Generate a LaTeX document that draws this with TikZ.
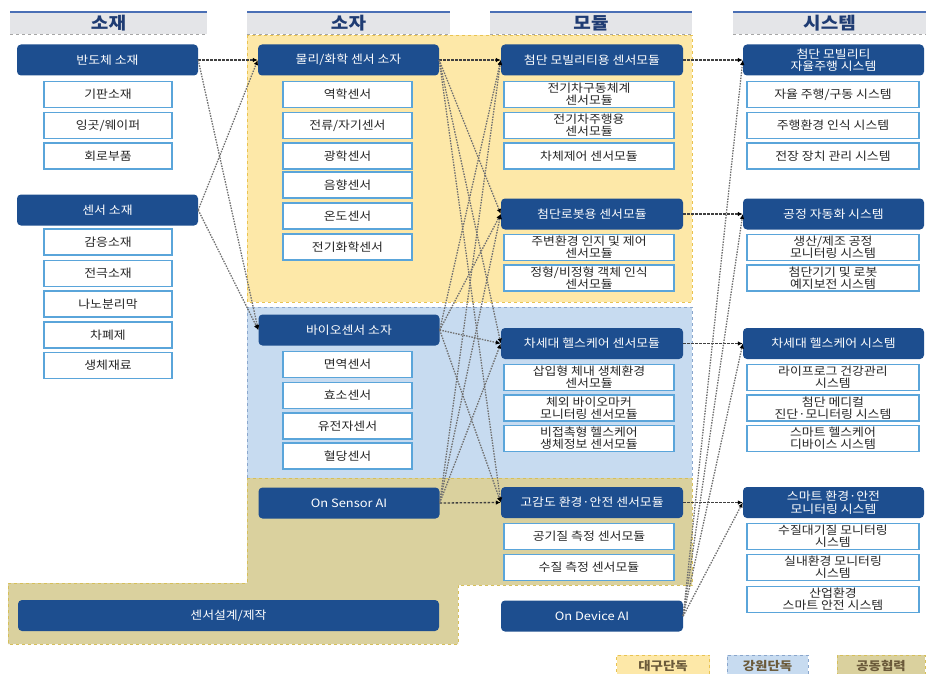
\documentclass[tikz,border=0pt]{standalone}
\usepackage{fontspec}
\setmainfont{Noto Sans CJK KR}[FakeStretch=1.12]
\usetikzlibrary{arrows.meta}
\definecolor{navyA}{HTML}{1D4E8F}
\definecolor{subline}{HTML}{5AA5DA}
\definecolor{headgray}{HTML}{E4E5E8}
\definecolor{headline}{HTML}{4A6FB5}
\definecolor{headtext}{HTML}{1F3C73}
\definecolor{daegu}{HTML}{FDE8A8}
\definecolor{daeguline}{HTML}{E9C352}
\definecolor{gangwon}{HTML}{C7DBF0}
\definecolor{gangwonline}{HTML}{8AA6CC}
\definecolor{joint}{HTML}{DAD19E}
\definecolor{jointline}{HTML}{D6BF5A}
\definecolor{linkgray}{HTML}{707070}
\definecolor{legendtext}{HTML}{6B5A3A}

\begin{document}
\begin{tikzpicture}[x=1pt,y=-1pt,
 dark/.style={fill=navyA,rounded corners=4pt,text=white,minimum height=31,inner sep=0,align=center,font=\fontsize{11.5}{12.5}\selectfont},
 sub/.style={fill=white,draw=subline,line width=1.4pt,minimum height=26,inner sep=0,align=center,text=black!85,font=\fontsize{11.5}{12}\selectfont},
 head/.style={text=headtext,font=\bfseries\fontsize{17}{18}\selectfont},
 link/.style={draw=linkgray,line width=1.3pt,dash pattern=on 1.5pt off 1.2pt,-{Latex[length=5pt,width=4.5pt,color=black]}},
 hlink/.style={link,draw=black!75,dash pattern=on 2.5pt off 1.5pt},
 legendbox/.style={dashed,line width=0.8pt,minimum height=22,inner sep=0,text=legendtext,font=\bfseries\fontsize{12}{13}\selectfont}]
\useasboundingbox (0,0) rectangle (931,674);

% regions
\fill[daegu] (247,35) rectangle (692,302);
\draw[daeguline,dashed] (247,35) rectangle (692,302);
\fill[gangwon] (247,307) rectangle (692,478);
\draw[gangwonline,dashed] (247,307) rectangle (692,478);
\fill[joint] (247,478) -- (692,478) -- (692,585) -- (458,585) -- (458,644) -- (8,644) -- (8,583) -- (247,583) -- cycle;
\draw[jointline,dashed] (247,478) -- (692,478) -- (692,585) -- (458,585) -- (458,644) -- (8,644) -- (8,583) -- (247,583) -- cycle;

% headers
\foreach \n/\a/\b/\t in {h1/10/207/소재,h2/247/450/소자,h3/490/692/모듈,h4/733/926/시스템} {
 \fill[headgray] (\a,12) rectangle (\b,34);
 \draw[headline,line width=1.2pt] (\a,12) -- (\b,12);
 \draw[gray!70,dashed] (\a,34) -- (\b,34);
 \node[head] (\n) at ({(\a+\b)/2},23) {\t};
}

% materials
\node[dark,minimum width=181] (mat1) at (107.5,60) {반도체 소재};
\node[dark,minimum width=181] (mat2) at (107.5,210) {센서 소재};
\foreach \n/\y/\t in {a1/94.5/기판소재,a2/125.5/{잉곳/웨이퍼},a3/156/회로부품,a4/242/감응소재,a5/273.5/전극소재,a6/304/나노분리막,a7/335/차폐제,a8/365.5/생체재료}
 \node[sub,minimum width=128] (\n) at (108,\y) {\t};

% devices
\node[dark,minimum width=181] (dev1) at (348.5,60) {물리/화학 센서 소자};
\node[dark,minimum width=181] (dev2) at (349,330) {바이오센서 소자};
\node[dark,minimum width=181] (dev3) at (349,503) {On Sensor AI};
\node[dark,minimum width=421] (design) at (228.5,615.5) {센서설계/제작};
\foreach \n/\y/\t in {b1/94.5/역학센서,b2/125.5/{전류/자기센서},b3/156/광학센서,b4/185/음향센서,b5/216/온도센서,b6/247/전기화학센서,b7/364.5/면역센서,b8/395.5/효소센서,b9/426/유전자센서,b10/456/혈당센서}
 \node[sub,minimum width=129] (\n) at (347.5,\y) {\t};

% modules
\node[dark,minimum width=182] (mod1) at (592,60) {첨단 모빌리티용 센서모듈};
\node[dark,minimum width=182] (mod2) at (592,214) {첨단로봇용 센서모듈};
\node[dark,minimum width=182] (mod3) at (592,343.5) {차세대 헬스케어 센서모듈};
\node[dark,minimum width=182] (mod4) at (592,502.5) {고감도 환경·안전 센서모듈};
\node[dark,minimum width=182] (modai) at (592,616) {On Device AI};
\foreach \n/\y/\t in {c1/94.5/{전기차구동체계\\센서모듈},c2/125.5/{전기차주행용\\센서모듈},c3/156/차체제어 센서모듈,c4/247.5/{주변환경 인지 및 제어\\센서모듈},c5/278/{정형/비정형 객체 인식\\센서모듈},c6/377.5/{삽입형 체내 생체환경\\센서모듈},c7/408/{체외 바이오마커\\모니터링 센서모듈},c8/438.5/{비접촉형 헬스케어\\생체정보 센서모듈},c9/536.5/공기질 측정 센서모듈,c10/567.5/수질 측정 센서모듈}
 \node[sub,minimum width=170] (\n) at (589,\y) {\t};

% systems
\node[dark,minimum width=181] (sys1) at (833.5,60) {첨단 모빌리티\\자율주행 시스템};
\node[dark,minimum width=181] (sys2) at (833.5,214) {공정 자동화 시스템};
\node[dark,minimum width=181] (sys3) at (833.5,343.5) {차세대 헬스케어 시스템};
\node[dark,minimum width=181] (sys4) at (833.5,502.5) {스마트 환경·안전\\모니터링 시스템};
\foreach \n/\y/\t in {d1/94.5/{자율 주행/구동 시스템},d2/125.5/주행환경 인식 시스템,d3/156/전장 장치 관리 시스템,d4/247.5/{생산/제조 공정\\모니터링 시스템},d5/278/{첨단기기 및 로봇\\예지보전 시스템},d6/377.5/{라이프로그 건강관리\\시스템},d7/408/{첨단 메디컬\\진단·모니터링 시스템},d8/438.5/{스마트 헬스케어\\디바이스 시스템},d9/536.5/{수질대기질 모니터링\\시스템},d10/567.5/{실내환경 모니터링\\시스템},d11/599.5/{산업환경\\스마트 안전 시스템}}
 \node[sub,minimum width=172] (\n) at (833,\y) {\t};

% connectors
\foreach \s/\t in {mat1/dev1,dev1/mod1,dev3/mod4,mod1/sys1,mod2/sys2,mod3/sys3,mod4/sys4}
 \draw[hlink] (\s.east) -- (\t.west);
\foreach \s/\t in {mat1/dev2,mat2/dev1,mat2/dev2,dev1/mod2,dev1/mod3,dev1/mod4,dev2/mod1,dev2/mod2,dev2/mod3,dev2/mod4,dev3/mod1,dev3/mod2,dev3/mod3,modai/sys1,modai/sys2,modai/sys3,modai/sys4}
 \draw[link] (\s.east) -- (\t.west);

% legend
\node[legendbox,fill=daegu,draw=daeguline,minimum width=93] (lg1) at (663,666) {대구단독};
\node[legendbox,fill=gangwon,draw=gangwonline,minimum width=81] (lg2) at (767.5,666) {강원단독};
\node[legendbox,fill=joint,draw=jointline,minimum width=88] (lg3) at (881,666) {공동협력};
\end{tikzpicture}
\end{document}
